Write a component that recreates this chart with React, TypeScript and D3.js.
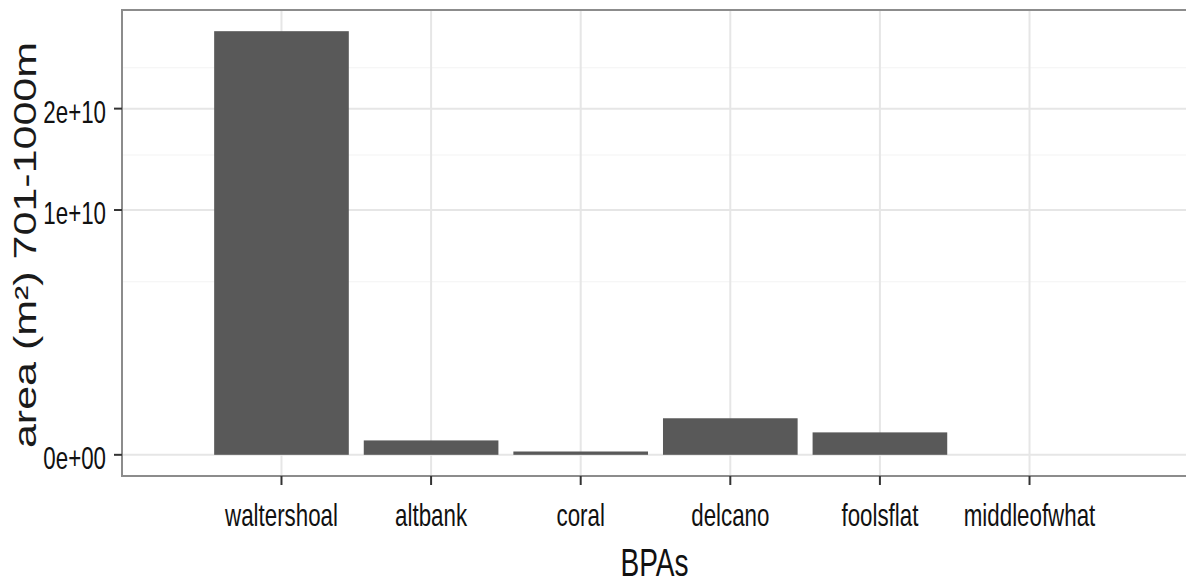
import React, { useEffect, useRef } from "react";
import * as d3 from "d3";

const categories = ["waltershoal", "altbank", "coral", "delcano", "foolsflat", "middleofwhat"];
const areaValues = [2.995e10, 3.46e7, 1.84e6, 2.23e8, 8.4e7, 0];
const majorTicks = [0, 1e10, 2e10];
const majorTickLabels = ["0e+00", "1e+10", "2e+10"];
const minorTicks = [5e9, 1.5e10, 2.5e10];

const W = 1186;
const H = 586;
const squash = 0.72;

const App = () => {
  const ref = useRef<SVGSVGElement>(null);

  useEffect(() => {
    const svg = d3.select(ref.current);
    svg.selectAll("*").remove();

    const margin = { top: 10, right: -3, bottom: 110, left: 122 };
    const left = margin.left;
    const right = W - margin.right;
    const top = margin.top;
    const bottom = H - margin.bottom;

    const x = d3.scalePoint<string>().domain(categories).range([left, right]).padding(1.066);
    const step = x.step();
    const barW = step * 0.9;

    // sqrt transform with 5% expansion in transformed space, like ggplot
    const m = Math.sqrt(d3.max(areaValues) as number);
    const yt = d3.scaleLinear().domain([-0.05 * m, 1.05 * m]).range([bottom, top]);
    const y = (v: number) => yt(Math.sqrt(v));

    const font = "'Liberation Sans', Arial, sans-serif";

    // grid
    svg
      .selectAll(".minor")
      .data(minorTicks)
      .enter()
      .append("line")
      .attr("x1", left)
      .attr("x2", right)
      .attr("y1", (d) => y(d))
      .attr("y2", (d) => y(d))
      .attr("stroke", "#f3f3f3")
      .attr("stroke-width", 1.2);

    svg
      .selectAll(".major")
      .data(majorTicks)
      .enter()
      .append("line")
      .attr("x1", left)
      .attr("x2", right)
      .attr("y1", (d) => y(d))
      .attr("y2", (d) => y(d))
      .attr("stroke", "#e6e6e6")
      .attr("stroke-width", 2);

    svg
      .selectAll(".vgrid")
      .data(categories)
      .enter()
      .append("line")
      .attr("x1", (d) => x(d) as number)
      .attr("x2", (d) => x(d) as number)
      .attr("y1", top)
      .attr("y2", bottom)
      .attr("stroke", "#e6e6e6")
      .attr("stroke-width", 2);

    // bars
    svg
      .selectAll(".bar")
      .data(categories)
      .enter()
      .append("rect")
      .attr("x", (d) => (x(d) as number) - barW / 2)
      .attr("width", barW)
      .attr("y", (d, i) => y(areaValues[i]))
      .attr("height", (d, i) => y(0) - y(areaValues[i]))
      .attr("fill", "#595959");

    // panel border
    svg
      .append("rect")
      .attr("x", left)
      .attr("y", top)
      .attr("width", right - left)
      .attr("height", bottom - top)
      .attr("fill", "none")
      .attr("stroke", "#8c8c8c")
      .attr("stroke-width", 2);

    // y ticks
    const yAxis = svg.append("g");
    yAxis
      .selectAll("line")
      .data(majorTicks)
      .enter()
      .append("line")
      .attr("x1", left - 8)
      .attr("x2", left)
      .attr("y1", (d) => y(d))
      .attr("y2", (d) => y(d))
      .attr("stroke", "#333")
      .attr("stroke-width", 2);
    yAxis
      .selectAll("text")
      .data(majorTicks)
      .enter()
      .append("text")
      .attr("transform", (d) => `translate(106,${y(d) + 14}) scale(${squash},1)`)
      .attr("text-anchor", "end")
      .style("font-family", font)
      .style("font-size", "31px")
      .attr("fill", "#111")
      .text((d, i) => majorTickLabels[i]);

    // x ticks
    const xAxis = svg.append("g");
    xAxis
      .selectAll("line")
      .data(categories)
      .enter()
      .append("line")
      .attr("x1", (d) => x(d) as number)
      .attr("x2", (d) => x(d) as number)
      .attr("y1", bottom)
      .attr("y2", bottom + 9)
      .attr("stroke", "#333")
      .attr("stroke-width", 2);
    xAxis
      .selectAll("text")
      .data(categories)
      .enter()
      .append("text")
      .attr("transform", (d) => `translate(${x(d)},526) scale(${squash},1)`)
      .attr("text-anchor", "middle")
      .style("font-family", font)
      .style("font-size", "31px")
      .attr("fill", "#111")
      .text((d) => d);

    // axis titles
    svg
      .append("text")
      .attr("transform", `translate(${(left + right) / 2 - 1},576) scale(${squash},1)`)
      .attr("text-anchor", "middle")
      .style("font-family", font)
      .style("font-size", "39px")
      .attr("fill", "#111")
      .text("BPAs");

    svg
      .append("text")
      .attr("transform", `translate(36,${(top + bottom) / 2 + 2}) scale(${squash},1) rotate(-90)`)
      .attr("text-anchor", "middle")
      .style("font-family", font)
      .style("font-size", "43px")
      .attr("fill", "#1a1a1a")
      .text("area (m²) 701-1000m");
  }, []);

  return (
    <div id="chartArea">
      <svg
        ref={ref}
        width={W}
        height={H}
        style={{ position: "absolute", left: 0, top: 0, background: "#fff" }}
      ></svg>
    </div>
  );
};

export default App;
